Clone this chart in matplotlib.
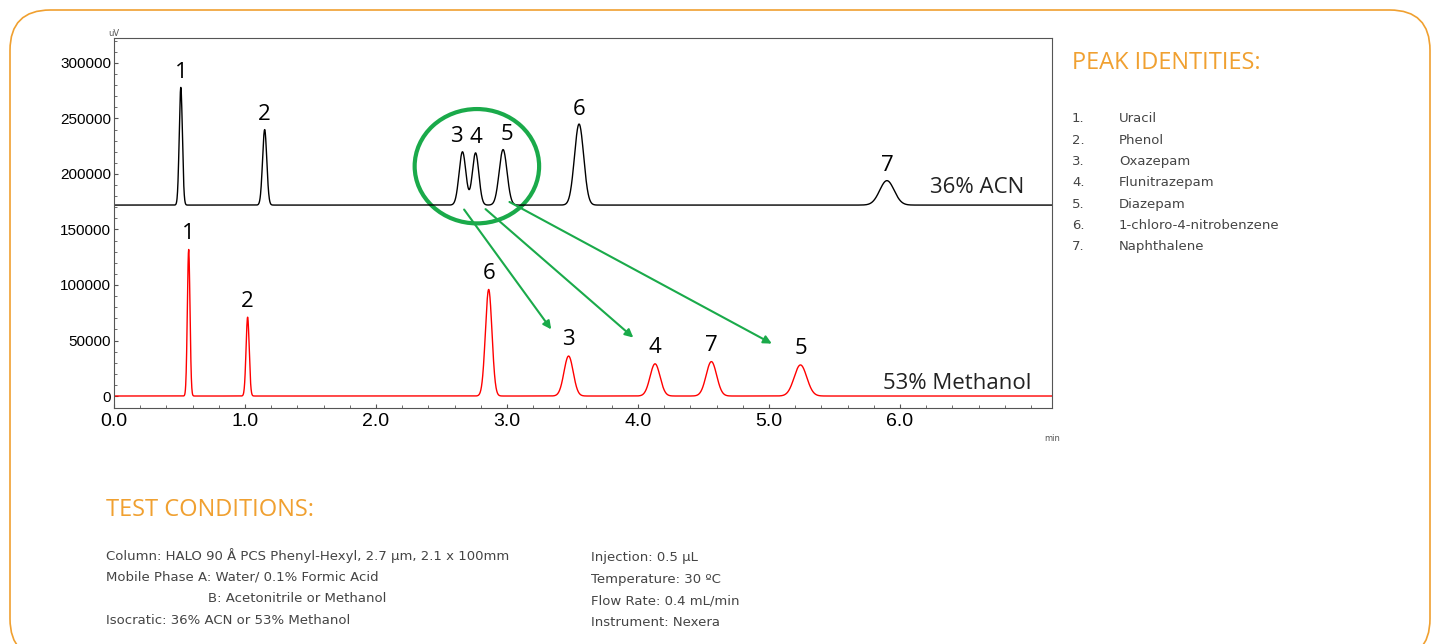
import numpy as np
import matplotlib.pyplot as plt
from matplotlib.patches import FancyBboxPatch, Ellipse

W, H = 1439, 644

# peak tables
acn_rt = [0.51, 1.15, 2.66, 2.76, 2.97, 3.55, 5.90]
acn_height = [106000, 68000, 48000, 47000, 50000, 73000, 22000]
acn_width = [0.012, 0.016, 0.026, 0.025, 0.030, 0.035, 0.055]
acn_labels = ["1", "2", "3", "4", "5", "6", "7"]
acn_baseline = 172000

meoh_rt = [0.57, 1.02, 2.86, 3.47, 4.13, 4.56, 5.24]
meoh_height = [132000, 71000, 96000, 36000, 29000, 31000, 28000]
meoh_width = [0.010, 0.012, 0.025, 0.035, 0.038, 0.040, 0.048]
meoh_labels = ["1", "2", "6", "3", "4", "7", "5"]

peak_names = ["Uracil", "Phenol", "Oxazepam", "Flunitrazepam", "Diazepam",
              "1-chloro-4-nitrobenzene", "Naphthalene"]
cond_left = ["Column: HALO 90 Å PCS Phenyl-Hexyl, 2.7 µm, 2.1 x 100mm",
             "Mobile Phase A: Water/ 0.1% Formic Acid",
             "                        B: Acetonitrile or Methanol",
             "Isocratic: 36% ACN or 53% Methanol"]
cond_right = ["Injection: 0.5 µL", "Temperature: 30 ºC",
              "Flow Rate: 0.4 mL/min", "Instrument: Nexera"]

ORANGE = "#f0a030"
GREEN = "#1aaa4a"
TICKFONT = "Liberation Sans"


def trace(t, rts, hts, wds, base=0.0):
    y = np.full_like(t, base)
    for r, h, w in zip(rts, hts, wds):
        y += h * np.exp(-0.5 * ((t - r) / w) ** 2)
    return y


fig = plt.figure(figsize=(W / 100, H / 100), dpi=100)
fig.patches.append(FancyBboxPatch((10 / W, -15 / H), 1420 / W, 649 / H,
                                  boxstyle="round,pad=0,rounding_size=0.028",
                                  transform=fig.transFigure, fill=False,
                                  ec=ORANGE, lw=1.2, mutation_aspect=W / H))

ax = fig.add_axes([114 / W, 1 - 408 / H, (1052 - 114) / W, (408 - 38) / H])
t = np.linspace(0, 7.2, 6000)
ax.plot(t, trace(t, acn_rt, acn_height, acn_width, acn_baseline), color="black", lw=1)
ax.plot(t, trace(t, meoh_rt, meoh_height, meoh_width), color="red", lw=1)

ax.set_xlim(0, 7.16)
ax.set_ylim(-10800, 322500)
ax.set_xticks(np.arange(0, 7, 1.0))
ax.set_xticklabels([f"{v:.1f}" for v in np.arange(0, 7, 1.0)], fontsize=14,
                   family=TICKFONT)
ax.set_xticks(np.arange(0, 7.2, 0.2), minor=True)
ax.set_yticks(np.arange(0, 300001, 50000))
ax.set_yticklabels([str(v) for v in range(0, 300001, 50000)], fontsize=11,
                   family=TICKFONT)
ax.set_yticks(np.arange(0, 320001, 10000), minor=True)
ax.tick_params(which="both", direction="in", length=3, color="#555555")
ax.tick_params(which="minor", length=2)
ax.tick_params(axis="y", pad=2)
for s in ax.spines.values():
    s.set_color("#555555")
ax.text(0.0, 1.0, "uV", transform=ax.transAxes, fontsize=6, color="#555555",
        ha="center", va="bottom")
ax.text(1.0, -0.09, "min", transform=ax.transAxes, fontsize=6, color="#555555",
        ha="center")

lab_font = dict(fontsize=16, ha="center", va="bottom", family="Open Sans")
offsets = {"3": -0.05, "4": 0.0, "5": 0.03}
for r, h, l in zip(acn_rt, acn_height, acn_labels):
    ax.text(r + offsets.get(l, 0), acn_baseline + h + 4000, l, **lab_font)
for r, h, l in zip(meoh_rt, meoh_height, meoh_labels):
    ax.text(r, h + 5000, l, **lab_font)
ax.text(6.95, 178000, "36% ACN", fontsize=16, ha="right", va="bottom",
        family="Open Sans", color="#222222")
ax.text(7.0, 2000, "53% Methanol", fontsize=16, ha="right", va="bottom",
        family="Open Sans", color="#222222")

ax.add_patch(Ellipse((2.77, 207000), 0.95, 103000, fill=False, ec=GREEN, lw=3))
starts = [(2.66, 170000), (2.82, 170000), (3.0, 176000)]
ends = [(3.35, 58000), (3.98, 51000), (5.04, 46000)]
for s, e in zip(starts, ends):
    ax.annotate("", xy=e, xytext=s,
                arrowprops=dict(arrowstyle="-|>", color=GREEN, lw=1.5,
                                mutation_scale=12))

fig.text(1072 / W, 1 - 63 / H, "PEAK IDENTITIES:", color=ORANGE, fontsize=17,
         va="center", family="Open Sans")
for i, n in enumerate(peak_names):
    y = 1 - (119 + i * 21.3) / H
    fig.text(1072 / W, y, f"{i + 1}.", fontsize=9.5, color="#444444", va="center")
    fig.text(1119 / W, y, n, fontsize=9.5, color="#444444", va="center")

fig.text(106 / W, 1 - 510 / H, "TEST CONDITIONS:", color=ORANGE, fontsize=17,
         va="center", family="Open Sans")
for i, line in enumerate(cond_left):
    fig.text(106 / W, 1 - (556 + i * 21.5) / H, line, fontsize=9.5,
             color="#444444", va="center")
for i, line in enumerate(cond_right):
    fig.text(591 / W, 1 - (558 + i * 21.5) / H, line, fontsize=9.5,
             color="#444444", va="center")

fig.savefig("out.png", dpi=100)
